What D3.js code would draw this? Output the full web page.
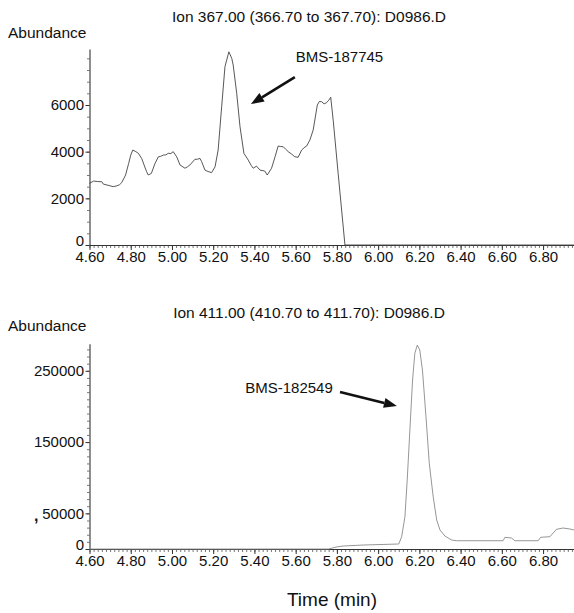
<!DOCTYPE html>
<html><head><meta charset="utf-8">
<script src="https://cdn.jsdelivr.net/npm/d3@7"></script>
<style>body{margin:0;background:#fff} text{font-family:"Liberation Sans",Arial,Helvetica,sans-serif;fill:#111}</style>
</head><body><svg id="c" width="574" height="613"></svg>
<script>
// ---- data ----
const xTickLabels = ["4.60","4.80","5.00","5.20","5.40","5.60","5.80","6.00","6.20","6.40","6.60","6.80"];
const topTitle = "Ion 367.00 (366.70 to 367.70): D0986.D";
const botTitle = "Ion 411.00 (410.70 to 411.70): D0986.D";
const topYTicks = [0, 2000, 4000, 6000];
const botYTicks = [0, 50000, 150000, 250000];
const topTime = [4.600,4.620,4.640,4.660,4.667,4.690,4.715,4.730,4.745,4.756,4.775,4.790,4.800,4.810,4.825,4.837,4.853,4.877,4.885,4.900,4.918,4.934,4.945,4.958,4.970,4.982,4.995,5.006,5.023,5.039,5.063,5.075,5.087,5.111,5.125,5.136,5.144,5.160,5.175,5.192,5.209,5.224,5.241,5.257,5.276,5.290,5.297,5.314,5.330,5.349,5.370,5.385,5.394,5.410,5.427,5.450,5.462,5.483,5.500,5.515,5.528,5.540,5.552,5.564,5.580,5.596,5.612,5.629,5.645,5.653,5.669,5.685,5.705,5.715,5.726,5.738,5.750,5.760,5.770,5.782,5.806,5.839,6.950];
const topAbund = [2640,2740,2720,2710,2610,2560,2500,2530,2580,2670,3000,3500,3850,4070,4000,3930,3710,3140,3000,3070,3500,3780,3800,3855,3860,3930,3920,4000,3780,3430,3290,3350,3430,3670,3680,3710,3570,3210,3150,3100,3350,4070,5920,7640,8280,8000,7710,6500,5070,3930,3640,3400,3290,3380,3210,3170,3000,3290,3780,4240,4220,4210,4100,4000,3900,3780,3760,4070,4200,4240,4500,4930,6000,6150,6140,6050,6100,6200,6330,5350,3070,0,0];
const botTime = [4.60,5.76,5.80,5.83,5.93,6.10,6.114,6.13,6.141,6.154,6.167,6.178,6.19,6.202,6.215,6.232,6.248,6.267,6.284,6.30,6.324,6.356,6.38,6.606,6.615,6.647,6.663,6.776,6.788,6.833,6.865,6.897,6.93,6.95];
const botAbund = [0,0,3000,4200,5600,7000,17250,45300,96800,166900,237000,274500,286100,279100,251000,185600,120200,73400,40700,26650,18200,12600,11600,11600,16400,15400,11600,11600,16400,17250,27600,29450,28050,26650];
// annotations in data coordinates
const topNote = {label:"BMS-187745", lx:5.600, ly:8050, tailX:5.596, tailY:7195, tipX:5.383, tipY:6039};
const botNote = {label:"BMS-182549", lx:5.780, ly:225800, tailX:5.815, tailY:220200, tipX:6.091, tipY:200560};

const svg = d3.select("#c");
const xDomain = [4.60, 6.95];

function panel(opt){
  const x = d3.scaleLinear().domain(xDomain).range([89.5, 574]);
  const y = d3.scaleLinear().domain(opt.yDomain).range([opt.y0, opt.yTop]);
  const g = svg.append("g");
  g.append("text").attr("x", 309).attr("y", opt.titleY).attr("text-anchor","middle")
    .attr("font-size", 15.5).text(opt.title);
  g.append("text").attr("x", 8).attr("y", opt.abY).attr("font-size", 15.5).text("Abundance");
  // minor x ticks
  const minorX = d3.range(0, 118).map(i => 4.60 + i*0.02).filter(v => v <= 6.95);
  const gxm = g.append("g").attr("transform",`translate(0,${opt.y0})`)
    .call(d3.axisBottom(x).tickValues(minorX).tickSize(3).tickFormat(""));
  gxm.select(".domain").remove();
  gxm.selectAll("line").attr("stroke","#555").attr("stroke-width",0.8);
  const gx = g.append("g").attr("transform",`translate(0,${opt.y0})`)
    .call(d3.axisBottom(x).tickValues(xTickLabels.map(Number)).tickSize(5).tickSizeOuter(0).tickPadding(1)
      .tickFormat((d,i) => xTickLabels[i]));
  gx.select(".domain").attr("stroke","#333").attr("stroke-width",1.1);
  gx.selectAll("line").attr("stroke","#333");
  gx.selectAll("text").attr("font-size",15).attr("fill","#111").attr("font-family",'"Liberation Sans",Arial,sans-serif');
  // minor y ticks
  const minorY = d3.range(0, opt.yDomain[1]+1, opt.minorStep);
  const gym = g.append("g").attr("transform","translate(89.5,0)")
    .call(d3.axisLeft(y).tickValues(minorY).tickSize(2.5).tickFormat(""));
  gym.select(".domain").remove();
  gym.selectAll("line").attr("stroke","#555").attr("stroke-width",0.8);
  const gy = g.append("g").attr("transform","translate(89.5,0)")
    .call(d3.axisLeft(y).tickValues(opt.yTicks).tickSize(4).tickSizeOuter(0).tickPadding(1.5).tickFormat(d3.format("d")));
  gy.select(".domain").attr("stroke","#333").attr("stroke-width",1.1);
  gy.selectAll("line").attr("stroke","#333");
  gy.selectAll("text").attr("font-size",15).attr("fill","#111").attr("font-family",'"Liberation Sans",Arial,sans-serif')
    .attr("dy", d => d === 0 ? "0.05em" : "0.32em");
  // trace
  const pts = opt.time.map((t,i)=>[t, opt.abund[i]]);
  g.append("path").datum(pts).attr("fill","none").attr("stroke",opt.color).attr("stroke-width",opt.sw)
    .attr("d", d3.line().x(d=>x(d[0])).y(d=>y(d[1])));
  // annotation
  const n = opt.note;
  g.append("text").attr("x", x(n.lx)).attr("y", y(n.ly)).attr("dy","0.35em")
    .attr("text-anchor", opt.anchor).attr("font-size",15).text(n.label);
  const x1 = x(n.tailX), y1 = y(n.tailY), x2 = x(n.tipX), y2 = y(n.tipY);
  const ang = Math.atan2(y2-y1, x2-x1), L = 13, W = 5;
  const bx = x2 - L*Math.cos(ang), by = y2 - L*Math.sin(ang);
  g.append("line").attr("x1",x1).attr("y1",y1).attr("x2",bx).attr("y2",by)
    .attr("stroke","#111").attr("stroke-width",2.6);
  g.append("path").attr("fill","#111")
    .attr("d", `M${x2},${y2}L${bx + W*Math.sin(ang)},${by - W*Math.cos(ang)}L${bx - W*Math.sin(ang)},${by + W*Math.cos(ang)}Z`);
  return {x, y};
}

panel({title: topTitle, titleY: 22, abY: 38, y0: 245, yTop: 49, yDomain:[0,8400], yTicks: topYTicks,
  minorStep: 500, time: topTime, abund: topAbund, color:"#444", sw:0.9, note: topNote, anchor:"start"});
panel({title: botTitle, titleY: 318, abY: 331, y0: 549, yTop: 343.7, yDomain:[0,288000], yTicks: botYTicks,
  minorStep: 10000, time: botTime, abund: botAbund, color:"#8a8a8a", sw:0.9, note: botNote, anchor:"end"});

// scan artefact near the 50000 label
svg.append("text").attr("x", 34).attr("y", 521).attr("font-size", 16).attr("font-weight","bold").text(",");
svg.append("text").attr("x", 332).attr("y", 606).attr("text-anchor","middle").attr("font-size",19).text("Time (min)");
</script></body></html>
